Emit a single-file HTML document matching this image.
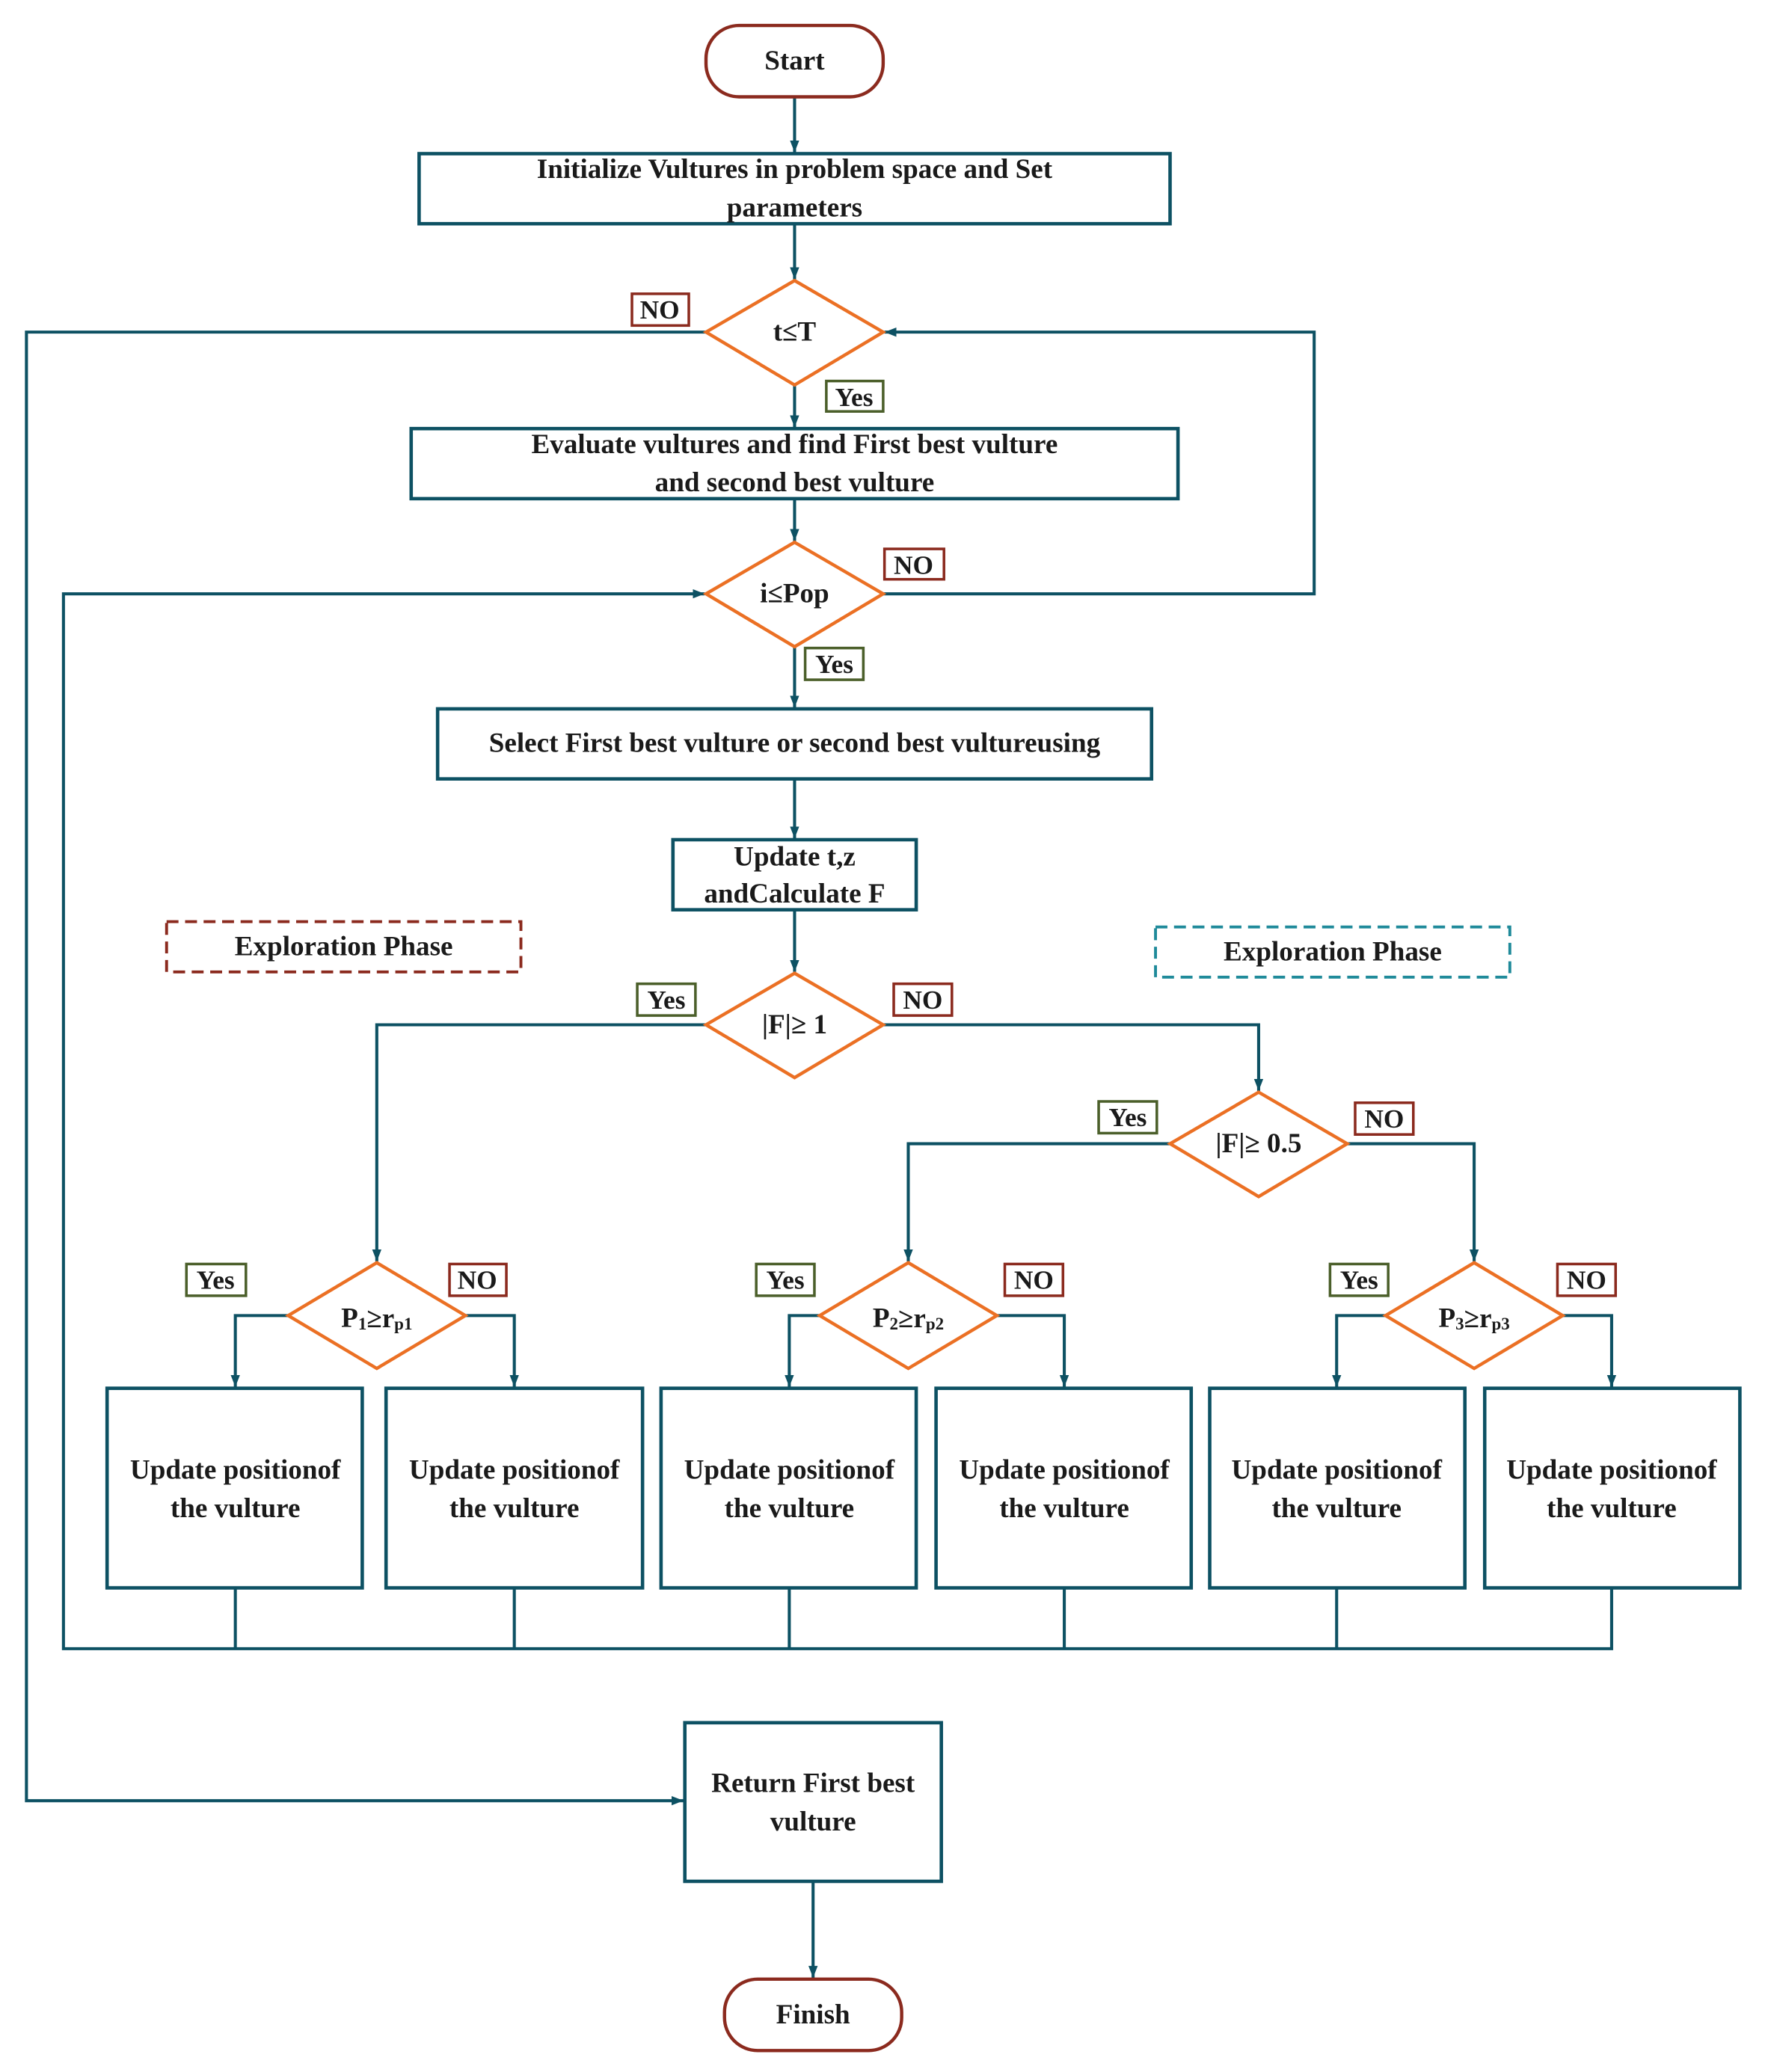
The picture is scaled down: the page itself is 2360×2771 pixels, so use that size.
<!DOCTYPE html>
<html><head><meta charset="utf-8"><style>
html,body{margin:0;padding:0;background:#fff;}
svg{display:block;}
text{font-family:'Liberation Serif','Times New Roman',serif;font-weight:bold;fill:#1a1a1a;text-anchor:middle;dominant-baseline:central;}
</style></head><body>
<svg width="2360" height="2771" viewBox="0 0 1335 1567" xmlns="http://www.w3.org/2000/svg" font-family="Liberation Serif, serif">
<defs>
<marker id="a" markerWidth="10" markerHeight="10" refX="9" refY="5" orient="auto" markerUnits="userSpaceOnUse">
<path d="M0,1.5 L9,5 L0,8.5 Z" fill="#0d5163"/></marker>
</defs>
<g fill="none" stroke="#0d5163" stroke-width="2.3">
<line x1="601" y1="73" x2="601" y2="115" marker-end="url(#a)"/>
<line x1="601" y1="169" x2="601" y2="211" marker-end="url(#a)"/>
<line x1="601" y1="291" x2="601" y2="323" marker-end="url(#a)"/>
<line x1="601" y1="377" x2="601" y2="409" marker-end="url(#a)"/>
<line x1="601" y1="489" x2="601" y2="535" marker-end="url(#a)"/>
<line x1="601" y1="589" x2="601" y2="634" marker-end="url(#a)"/>
<line x1="601" y1="688" x2="601" y2="735" marker-end="url(#a)"/>
<polyline points="534,251 20,251 20,1362 517,1362" marker-end="url(#a)"/>
<polyline points="668,449 994,449 994,251 669,251" marker-end="url(#a)"/>
<polyline points="1219,1201 1219,1247 48,1247 48,449 533,449" marker-end="url(#a)"/>
<line x1="178" y1="1201" x2="178" y2="1247"/>
<line x1="389" y1="1201" x2="389" y2="1247"/>
<line x1="597" y1="1201" x2="597" y2="1247"/>
<line x1="805" y1="1201" x2="805" y2="1247"/>
<line x1="1011" y1="1201" x2="1011" y2="1247"/>
<polyline points="534,775 285,775 285,954" marker-end="url(#a)"/>
<polyline points="668,775 952,775 952,825" marker-end="url(#a)"/>
<polyline points="885,865 687,865 687,954" marker-end="url(#a)"/>
<polyline points="1019,865 1115,865 1115,954" marker-end="url(#a)"/>
<polyline points="218,995 178,995 178,1049" marker-end="url(#a)"/>
<polyline points="352,995 389,995 389,1049" marker-end="url(#a)"/>
<polyline points="620,995 597,995 597,1049" marker-end="url(#a)"/>
<polyline points="754,995 805,995 805,1049" marker-end="url(#a)"/>
<polyline points="1048,995 1011,995 1011,1049" marker-end="url(#a)"/>
<polyline points="1182,995 1219,995 1219,1049" marker-end="url(#a)"/>
<line x1="615" y1="1423" x2="615" y2="1496" marker-end="url(#a)"/>
</g>
<g fill="#fff" stroke="#0d5163" stroke-width="2.6">
<rect x="317" y="116" width="568" height="53"/>
<rect x="311" y="324" width="580" height="53"/>
<rect x="331" y="536" width="540" height="53"/>
<rect x="509" y="635" width="184" height="53"/>
<rect x="81" y="1050" width="193" height="151"/>
<rect x="292" y="1050" width="194" height="151"/>
<rect x="500" y="1050" width="193" height="151"/>
<rect x="708" y="1050" width="193" height="151"/>
<rect x="915" y="1050" width="193" height="151"/>
<rect x="1123" y="1050" width="193" height="151"/>
<rect x="518" y="1303" width="194" height="120"/>
</g>
<g fill="#fff" stroke="#8b2a1e" stroke-width="2.5">
<rect x="534" y="19" width="134" height="54" rx="25"/>
<rect x="548" y="1497" width="134" height="54" rx="25"/>
</g>
<g fill="#fff" stroke="#eb7024" stroke-width="2.5">
<polygon points="601,212 668,251 601,291 534,251"/>
<polygon points="601,410 668,449 601,489 534,449"/>
<polygon points="601,736 668,775 601,815 534,775"/>
<polygon points="952,826 1019,865 952,905 885,865"/>
<polygon points="285,955 352,995 285,1035 218,995"/>
<polygon points="687,955 754,995 687,1035 620,995"/>
<polygon points="1115,955 1182,995 1115,1035 1048,995"/>
</g>
<g fill="none" stroke-width="2.2" stroke-dasharray="9,5">
<rect x="126" y="697" width="268" height="38" stroke="#8b2a1e"/>
<rect x="874" y="701" width="268" height="38" stroke="#1f8a9a"/>
</g>
<g fill="#fff" stroke-width="2">
<g stroke="#8b2a1e">
<rect x="478" y="222" width="43" height="24"/>
<rect x="669" y="415" width="45" height="23"/>
<rect x="676" y="744" width="44" height="24"/>
<rect x="1025" y="834" width="44" height="24"/>
<rect x="340" y="956" width="43" height="24"/>
<rect x="760" y="956" width="44" height="24"/>
<rect x="1178" y="956" width="44" height="24"/>
</g>
<g stroke="#4b5f2a">
<rect x="625" y="288" width="43" height="23"/>
<rect x="609" y="490" width="44" height="24"/>
<rect x="482" y="744" width="44" height="24"/>
<rect x="831" y="833" width="44" height="24"/>
<rect x="141" y="956" width="45" height="24"/>
<rect x="572" y="956" width="44" height="24"/>
<rect x="1006" y="956" width="44" height="24"/>
</g>
</g>
<g font-size="21">
<text x="601" y="46">Start</text>
<text x="601" y="128">Initialize Vultures in problem space and Set</text>
<text x="601" y="157">parameters</text>
<text x="601" y="251">t≤T</text>
<text x="601" y="336">Evaluate vultures and find First best vulture</text>
<text x="601" y="365">and second best vulture</text>
<text x="601" y="449">i≤Pop</text>
<text x="601" y="562">Select First best vulture or second best vultureusing</text>
<text x="601" y="648">Update t,z</text>
<text x="601" y="676">andCalculate F</text>
<text x="260" y="716">Exploration Phase</text>
<text x="1008" y="720">Exploration Phase</text>
<text x="601" y="775">|F|≥ 1</text>
<text x="952" y="865">|F|≥ 0.5</text>
<text x="285" y="997">P<tspan font-size="13" dy="4">1</tspan><tspan dy="-4">≥r</tspan><tspan font-size="13" dy="4">p1</tspan></text>
<text x="687" y="997">P<tspan font-size="13" dy="4">2</tspan><tspan dy="-4">≥r</tspan><tspan font-size="13" dy="4">p2</tspan></text>
<text x="1115" y="997">P<tspan font-size="13" dy="4">3</tspan><tspan dy="-4">≥r</tspan><tspan font-size="13" dy="4">p3</tspan></text>
<text x="178" y="1112">Update positionof</text><text x="178" y="1141">the vulture</text>
<text x="389" y="1112">Update positionof</text><text x="389" y="1141">the vulture</text>
<text x="597" y="1112">Update positionof</text><text x="597" y="1141">the vulture</text>
<text x="805" y="1112">Update positionof</text><text x="805" y="1141">the vulture</text>
<text x="1011" y="1112">Update positionof</text><text x="1011" y="1141">the vulture</text>
<text x="1219" y="1112">Update positionof</text><text x="1219" y="1141">the vulture</text>
<text x="615" y="1349">Return First best</text>
<text x="615" y="1378">vulture</text>
<text x="615" y="1524">Finish</text>
</g>
<g font-size="20">
<text x="499" y="234">NO</text>
<text x="691" y="427">NO</text>
<text x="698" y="756">NO</text>
<text x="1047" y="846">NO</text>
<text x="361" y="968">NO</text>
<text x="782" y="968">NO</text>
<text x="1200" y="968">NO</text>
<text x="646" y="300">Yes</text>
<text x="631" y="502">Yes</text>
<text x="504" y="756">Yes</text>
<text x="853" y="845">Yes</text>
<text x="163" y="968">Yes</text>
<text x="594" y="968">Yes</text>
<text x="1028" y="968">Yes</text>
</g>
</svg>
</body></html>
